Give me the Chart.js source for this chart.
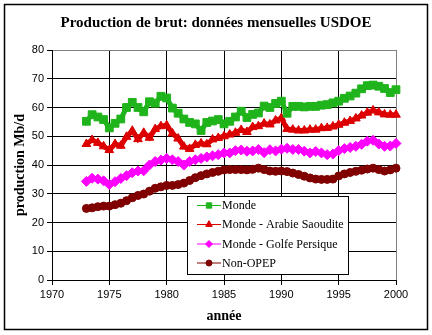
<!DOCTYPE html>
<html>
<head>
<meta charset="utf-8">
<script src="https://cdn.jsdelivr.net/npm/chart.js@4.4.0/dist/chart.umd.min.js"></script>
<style>
body { margin: 0; background: #fff; }
</style>
</head>
<body>
<canvas id="chart" width="432" height="335"></canvas>
<script>
// valeurs (Mb/d), un point par semestre
var years = [1973, 1973.5, 1974, 1974.5, 1975, 1975.5, 1976, 1976.5, 1977, 1977.5,
             1978, 1978.5, 1979, 1979.5, 1980, 1980.5, 1981, 1981.5, 1982, 1982.5,
             1983, 1983.5, 1984, 1984.5, 1985, 1985.5, 1986, 1986.5, 1987, 1987.5,
             1988, 1988.5, 1989, 1989.5, 1990, 1990.5, 1991, 1991.5, 1992, 1992.5,
             1993, 1993.5, 1994, 1994.5, 1995, 1995.5, 1996, 1996.5, 1997, 1997.5,
             1998, 1998.5, 1999, 1999.5, 2000];

var monde = [55.2, 57.5, 56.7, 55.8, 52.9, 54.5, 56.0, 60.0, 61.8, 60.0,
             58.5, 62.0, 61.5, 63.9, 63.3, 59.8, 58.0, 56.0, 54.8, 54.3,
             52.0, 54.8, 55.3, 55.8, 54.3, 55.2, 56.7, 58.7, 56.5, 57.6,
             58.1, 60.5, 60.0, 61.4, 62.2, 58.0, 60.4, 60.4, 60.2, 60.4,
             60.4, 60.8, 61.0, 61.6, 62.2, 63.2, 64.0, 65.0, 66.5, 67.6,
             67.8, 67.4, 66.6, 65.2, 66.2];

var mondeSansArabie = [47.3, 48.7, 47.7, 46.5, 45.2, 47.3, 46.7, 49.8, 51.9, 49.0,
             51.2, 49.5, 52.5, 53.5, 53.8, 51.0, 49.2, 46.4, 45.6, 47.0,
             47.5, 47.2, 48.9, 49.4, 50.0, 50.6, 51.2, 52.2, 51.5, 53.2,
             53.5, 54.4, 54.1, 55.5, 56.3, 52.5, 52.3, 52.0, 52.0, 52.3,
             52.3, 52.8, 52.9, 53.4, 54.0, 54.7, 55.3, 56.2, 57.2, 58.2,
             59.0, 58.3, 57.6, 57.5, 57.5];

var mondeSansGolfe = [34.3, 35.4, 35.1, 34.5, 33.2, 34.2, 35.3, 36.3, 37.3, 37.9,
             38.0, 40.0, 41.2, 41.7, 42.3, 41.8, 41.2, 40.0, 41.2, 41.8,
             42.3, 42.8, 43.2, 43.6, 44.2, 44.2, 45.0, 45.2, 44.8, 44.9,
             45.4, 44.3, 45.3, 44.9, 45.5, 45.8, 45.4, 45.4, 44.8, 44.2,
             44.7, 44.2, 43.6, 43.8, 45.0, 45.7, 46.1, 46.5, 47.2, 48.3,
             48.6, 47.3, 46.5, 46.6, 47.5];

var nonOpep = [24.9, 25.1, 25.5, 25.7, 25.7, 26.2, 26.7, 27.6, 28.6, 29.4,
             29.9, 30.9, 31.9, 32.4, 32.9, 32.9, 33.2, 33.7, 34.6, 35.6,
             36.3, 36.9, 37.4, 37.8, 38.3, 38.4, 38.4, 38.4, 38.3, 38.5,
             38.9, 38.4, 37.9, 37.8, 37.9, 37.7, 37.2, 36.7, 36.1, 35.5,
             35.1, 35.0, 35.0, 35.1, 36.2, 36.9, 37.4, 37.8, 38.2, 38.6,
             38.9, 38.4, 37.9, 38.3, 38.9];

var seriesNames = ['Monde', 'Monde - Arabie Saoudite', 'Monde - Golfe Persique', 'Non-OPEP'];
var xTicks = [1970, 1975, 1980, 1985, 1990, 1995, 2000];
var yTicks = [0, 10, 20, 30, 40, 50, 60, 70, 80];

function pts(vals){
  var out = [];
  for (var i = 0; i < years.length; i++) out.push({x: years[i], y: vals[i]});
  return out;
}

function serie(name, vals, color, style, rad, legRad){
  return {
    label: name,
    data: pts(vals),
    borderColor: color,
    backgroundColor: color,
    borderWidth: 5,
    pointStyle: style,
    pointRadius: rad,
    pointBorderWidth: 1,
    legendRadius: legRad,
    clip: false
  };
}

var frame = {
  id: 'frame',
  beforeDraw: function(chart){
    var c = chart.ctx;
    c.save();
    c.fillStyle = '#fff';
    c.fillRect(0, 0, chart.width, chart.height);
    c.restore();
  },
  afterDraw: function(chart){
    var c = chart.ctx;
    c.save();
    // cadre du graphique
    c.strokeStyle = '#000';
    c.lineWidth = 1.5;
    c.strokeRect(4.5, 4.5, 423, 325);
    // legende
    c.fillStyle = '#fff';
    c.fillRect(187, 196, 161, 78);
    c.lineWidth = 1;
    c.strokeRect(187.5, 196.5, 161, 78);
    var ys = [205, 224, 243.5, 262.5];
    chart.data.datasets.forEach(function(ds, i){
      c.strokeStyle = ds.borderColor;
      c.lineWidth = 1;
      c.beginPath();
      c.moveTo(197, ys[i] + 0.5);
      c.lineTo(221, ys[i] + 0.5);
      c.stroke();
      c.fillStyle = ds.backgroundColor;
      Chart.helpers.drawPoint(c, {pointStyle: ds.pointStyle, radius: ds.legendRadius, rotation: 0, borderWidth: 1}, 209, ys[i] + 0.5);
      c.fillStyle = '#000';
      c.font = '12px "Liberation Serif"';
      c.textBaseline = 'middle';
      c.fillText(ds.label, 222, ys[i] + 1);
    });
    c.restore();
  }
};

var chart1 = document.getElementById('chart').getContext('2d');
var chert = new Chart(chart1, {
  type: 'line',
  data: {
    datasets: [
      serie(seriesNames[0], monde, '#20b41c', 'rect', 5.5, 3.8),
      serie(seriesNames[1], mondeSansArabie, '#dd0000', 'triangle', 5, 3.8),
      serie(seriesNames[2], mondeSansGolfe, '#ff00ff', 'rectRot', 5, 3.5),
      serie(seriesNames[3], nonOpep, '#800000', 'circle', 4, 3)
    ]
  },
  options: {
    responsive: false,
    animation: false,
    layout: { padding: { left: 4, right: 4, top: 0, bottom: 5 } },
    plugins: {
      legend: { display: false },
      tooltip: { enabled: false },
      title: {
        display: true,
        text: 'Production de brut: données mensuelles USDOE',
        color: '#000',
        font: { family: 'Liberation Serif', size: 15, weight: 'bold' },
        padding: { top: 14, bottom: 18 }
      }
    },
    scales: {
      x: {
        type: 'linear',
        min: 1970,
        max: 2000,
        afterBuildTicks: function(s){ s.ticks = xTicks.map(function(v){ return {value: v}; }); },
        afterFit: function(s){ s.height = 50; },
        ticks: {
          color: '#000',
          padding: 3,
          maxRotation: 0,
          font: { family: 'Liberation Sans', size: 11 },
          callback: function(v){ return String(v); }
        },
        grid: {
          color: function(ctx){ return ctx.tick && ctx.tick.value === 2000 ? '#808080' : '#000'; },
          tickColor: '#000',
          tickLength: 5
        },
        border: { color: '#000' },
        title: {
          display: true,
          text: 'année',
          color: '#000',
          font: { family: 'Liberation Serif', size: 14, weight: 'bold' },
          padding: { top: 0, bottom: 5 }
        }
      },
      y: {
        min: 0,
        max: 80,
        afterBuildTicks: function(s){ s.ticks = yTicks.map(function(v){ return {value: v}; }); },
        afterFit: function(s){ s.width = 48; },
        ticks: {
          color: '#000',
          padding: 3,
          font: { family: 'Liberation Sans', size: 11 }
        },
        grid: {
          color: function(ctx){ return ctx.tick && ctx.tick.value === 80 ? '#808080' : '#000'; },
          tickColor: '#000',
          tickLength: 5
        },
        border: { color: '#000' },
        title: {
          display: true,
          text: 'production Mb/d',
          color: '#000',
          font: { family: 'Liberation Serif', size: 14, weight: 'bold' },
          padding: { top: 8, bottom: 0 }
        }
      },
      // marge de droite, sans rien afficher
      yDroite: {
        position: 'right',
        min: 0,
        max: 80,
        afterFit: function(s){ s.width = 32; },
        ticks: { display: false },
        grid: { display: false },
        border: { display: false }
      }
    }
  },
  plugins: [frame]
});
</script>
</body>
</html>
